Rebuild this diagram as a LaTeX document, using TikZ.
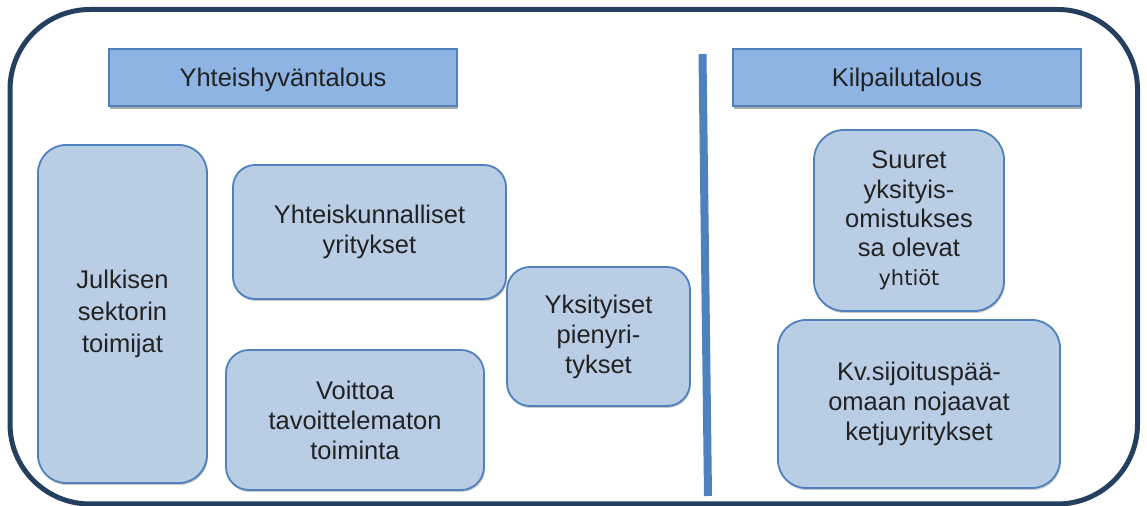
\documentclass[tikz,border=0pt]{standalone}
\usepackage{fontspec}
\setmainfont{Liberation Sans}
\newfontfamily\altfont{DejaVu Sans}
\usetikzlibrary{shadows}
\definecolor{frameblue}{HTML}{243F60}
\definecolor{accent}{HTML}{4F81BD}
\definecolor{boxfill}{HTML}{B9CDE5}
\definecolor{headfill}{HTML}{8EB4E3}
\definecolor{inkgray}{HTML}{222222}
\tikzset{
  header/.style={draw=accent, line width=1.2pt, fill=headfill, inner sep=0pt,
    minimum width=174pt, minimum height=28.5pt, text=inkgray,
    text height=12pt, text depth=2.7pt,
    font=\fontsize{12.75}{15}\selectfont,
    drop shadow={shadow xshift=0.6pt, shadow yshift=-1.6pt, fill=black!32, opacity=1}},
  unit/.style={draw=accent, line width=0.9pt, fill=boxfill, inner sep=0pt,
    align=center, text=inkgray, font=\fontsize{12.75}{15}\selectfont,
    drop shadow={shadow xshift=0.4pt, shadow yshift=-1pt, fill=black!30, opacity=0.7}},
  divider/.style={draw=accent, line width=4pt},
  outerframe/.style={draw=frameblue, line width=2.5pt, rounded corners=40pt}
}
\begin{document}
\begin{tikzpicture}[x=0.5pt, y=-0.5pt]
\useasboundingbox (0,0) rectangle (1147,506);
\fill[white] (0,0) rectangle (1147,506);

% outer frame
\draw[outerframe] (10,9.5) rectangle (1137.5,504);

% section headings
\node[header] (h1) at (283,77.5) {Yhteishyväntalous};
\node[header] (h2) at (907,77.5) {Kilpailutalous};

% dividing line between the two economies
\coordinate (dtop) at (702.5,54);
\coordinate (dbot) at (708,496);
\draw[divider] (dtop) -- (dbot);

% common-good economy actors
\node[unit, rounded corners=14pt, minimum width=84.5pt, minimum height=169pt,
  font=\fontsize{12.75}{16}\selectfont]
  (julk) at (122.5,314) {Julkisen\\sektorin\\toimijat};
\node[unit, rounded corners=11pt, minimum width=136.5pt, minimum height=67pt]
  (yht) at (369.5,232) {Yhteiskunnalliset\\yritykset};
\node[unit, rounded corners=11.5pt, minimum width=129pt, minimum height=70pt]
  (voit) at (355,420) {Voittoa\\tavoittelematon\\toiminta};
\node[unit, rounded corners=11.5pt, minimum width=91.5pt, minimum height=69.5pt]
  (yks) at (598.5,336.5) {Yksityiset\\pienyri-\\tykset};

% competitive economy actors
\node[unit, rounded corners=15pt, minimum width=95pt, minimum height=90.5pt,
  font=\fontsize{12.75}{14.6}\selectfont]
  (suur) at (909,220.5) {Suuret\\yksityis-\\omistukses\\sa olevat\\{\altfont\fontsize{10.5}{14.6}\selectfont yhtiöt}};
\node[unit, rounded corners=14pt, minimum width=141pt, minimum height=84pt]
  (kv) at (919,404) {Kv.sijoituspää-\\omaan nojaavat\\ketjuyritykset};
\end{tikzpicture}
\end{document}
